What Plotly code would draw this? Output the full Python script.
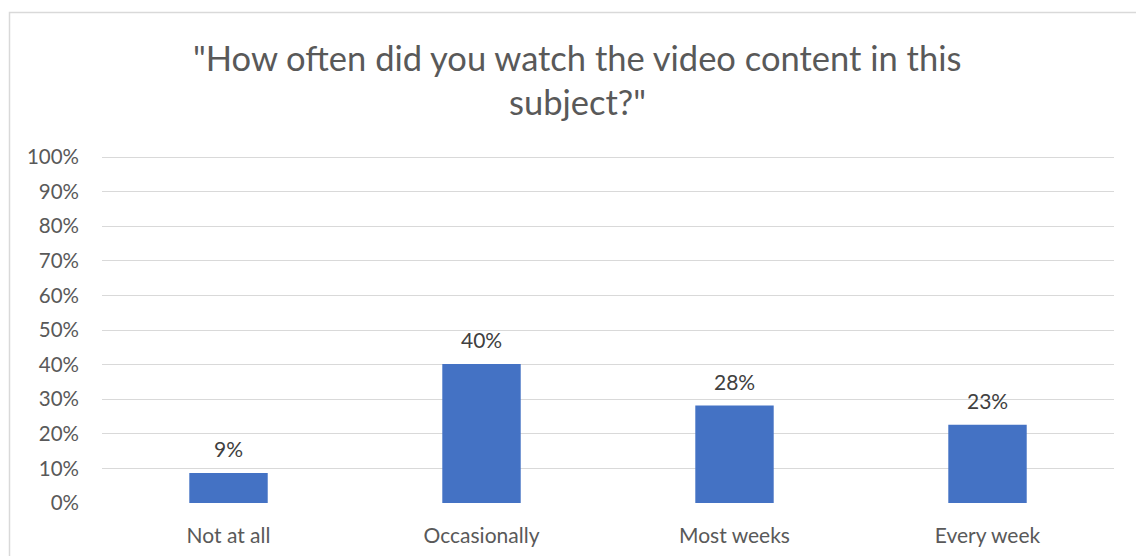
import plotly.graph_objects as go

categories = ["Not at all", "Occasionally", "Most weeks", "Every week"]
values = [0.087, 0.402, 0.282, 0.226]
labels = ["9%", "40%", "28%", "23%"]
title_lines = ['"How often did you watch the video content in this', 'subject?"']
y_ticks = [i / 10 for i in range(11)]
y_tick_labels = [f"{i*10}%" for i in range(11)]

FONT = "Lato"
W, H = 1136, 556
L, R, T, B = 102, 22, 156, 53
pw, ph = W - L - R, H - T - B

def px(x):
    return (x - L) / pw

def py(y):
    return (H - B - y) / ph

fig = go.Figure()
fig.add_trace(go.Bar(
    x=categories, y=values,
    marker=dict(color="#4472C4", line=dict(width=0)),
    width=0.31, cliponaxis=False,
))
for c, v, t in zip(categories, values, labels):
    fig.add_annotation(x=c, y=v, text=t, showarrow=False, yshift=24,
                       xanchor="center", yanchor="middle",
                       font=dict(family=FONT, size=21, color="#404040"))

fig.update_layout(
    width=W, height=H,
    margin=dict(l=L, r=R, t=T, b=B, autoexpand=False),
    paper_bgcolor="white", plot_bgcolor="white",
    showlegend=False,
    font=dict(family=FONT, color="#595959"),
    xaxis=dict(showgrid=False, showline=False, zeroline=False, ticks="",
               ticklabelstandoff=18, automargin=False,
               tickfont=dict(family=FONT, size=21, color="#595959")),
    yaxis=dict(range=[0, 1.003], tickvals=y_ticks, ticktext=y_tick_labels,
               showgrid=True, gridcolor="#D9D9D9", gridwidth=1.3,
               zeroline=False, showline=False, ticks="", ticklabelstandoff=22,
               automargin=False,
               tickfont=dict(family=FONT, size=20.5, color="#595959")),
    shapes=[dict(type="rect", xref="paper", yref="paper",
                 x0=px(9.5), x1=px(1145), y0=py(565), y1=py(12.5),
                 line=dict(color="#D9D9D9", width=1.5), layer="below")],
)
for i, line in enumerate(title_lines):
    fig.add_annotation(text=line, xref="paper", yref="paper",
                       x=px(577), y=py(57 + 44 * i), xanchor="center", yanchor="middle",
                       showarrow=False, font=dict(family=FONT, size=34.5, color="#595959"))

fig.write_html("out.html")
